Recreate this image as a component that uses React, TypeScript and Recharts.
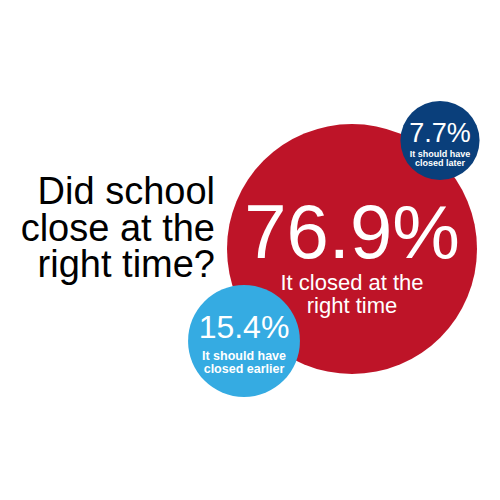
import { Cell, Scatter, ScatterChart, XAxis, YAxis, ZAxis } from "recharts"

// answers to "Did school close at the right time?"
const answers = ["It closed at the right time", "It should have closed later", "It should have closed earlier"]
const shares = [76.9, 7.7, 15.4]
// bubble layout, in a 0-100 grid
const bubbleX = [70.4, 88, 48.8]
const bubbleY = [49.8, 28.1, 68.2]

const title = ["Did school", "close at the", "right time?"]

const colors = ["#be1428", "#0a3f7b", "#35abe2"]
const FONT = '"Liberation Sans", Arial, Helvetica, sans-serif'

// label styling per bubble
const labelStyle = [
  { big: 76, bigDy: 9, small: 22, weight: 400, lines: [41, 64] },
  { big: 27, bigDy: 1, small: 9, weight: 700, lines: [16.5, 25.5] },
  { big: 32, bigDy: -3, small: 12.5, weight: 700, lines: [19, 32] },
]

const splitLabel = (label: string, i: number) => {
  if (i === 0) return ["It closed at the", "right time"]
  const words = label.split(" ")
  return [words.slice(0, 3).join(" "), words.slice(3).join(" ")]
}

const chartData = answers.map((label, i) => ({
  label,
  x: bubbleX[i],
  y: bubbleY[i],
  z: shares[i],
  idx: i,
}))

const Bubble = (props: any) => {
  const { cx, cy, size, width, payload, fill } = props
  const r = size != null ? Math.sqrt(size / Math.PI) : width / 2
  const i = payload.idx
  const s = labelStyle[i]
  const lines = splitLabel(payload.label, i)
  return (
    <g>
      <circle cx={cx} cy={cy} r={r} fill={fill} />
      <text
        x={cx}
        y={cy + s.bigDy}
        textAnchor="middle"
        fill="#fff"
        fontFamily={FONT}
        fontSize={s.big}
      >
        {payload.z.toFixed(1)}%
      </text>
      {lines.map((line, k) => (
        <text
          key={k}
          x={cx}
          y={cy + s.lines[k]}
          textAnchor="middle"
          fill="#fff"
          fontFamily={FONT}
          fontSize={s.small}
          fontWeight={s.weight}
        >
          {line}
        </text>
      ))}
    </g>
  )
}

export default function App() {
  return (
    <div style={{ position: "absolute", left: 0, top: 0, width: 500, height: 500, background: "#fff" }}>
      <ScatterChart width={500} height={500} margin={{ top: 0, right: 0, bottom: 0, left: 0 }}>
        <XAxis type="number" dataKey="x" domain={[0, 100]} hide />
        <YAxis type="number" dataKey="y" domain={[0, 100]} reversed hide />
        <ZAxis type="number" dataKey="z" domain={[0, 76.9]} range={[0, Math.PI * 125 * 125]} />
        <Scatter data={chartData} shape={<Bubble />} isAnimationActive={false}>
          {chartData.map((d, i) => (
            <Cell key={d.label} fill={colors[i]} />
          ))}
        </Scatter>
      </ScatterChart>
      <svg width={500} height={500} style={{ position: "absolute", left: 0, top: 0, pointerEvents: "none" }}>
        {title.map((line, i) => (
          <text
            key={line}
            x={215}
            y={204 + i * 36.5}
            textAnchor="end"
            fontFamily={FONT}
            fontSize={38}
            fill="#000"
          >
            {line}
          </text>
        ))}
      </svg>
    </div>
  )
}
